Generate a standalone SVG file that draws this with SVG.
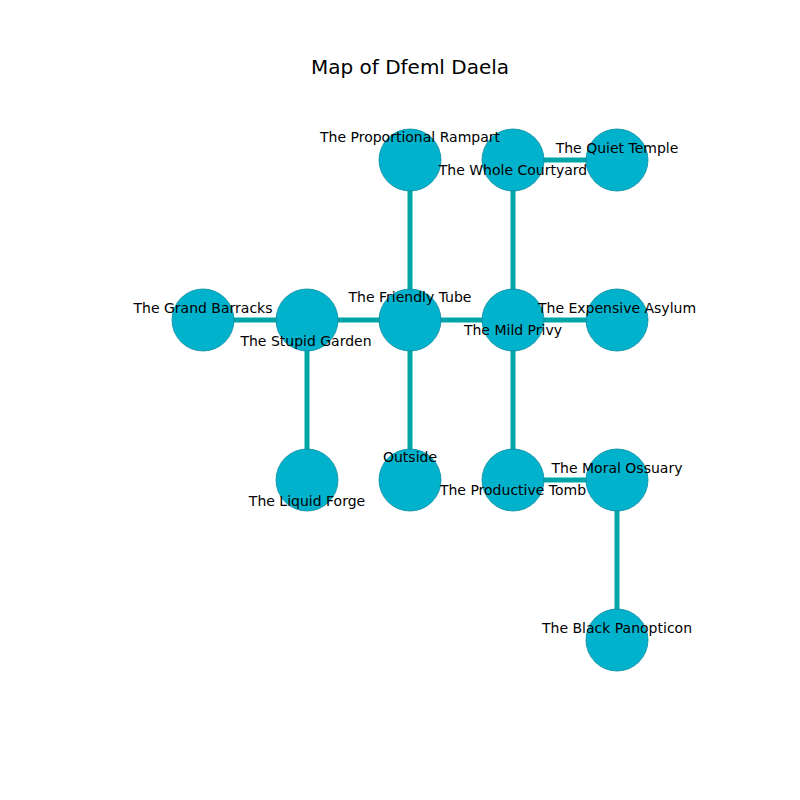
<svg xmlns="http://www.w3.org/2000/svg" width="800" height="800" viewBox="0 0 800 800">
<style>
.edge{stroke:#00a5a8;stroke-width:5;fill:none}
.node circle{fill:#00b2cc;stroke:#0a8ca0;stroke-width:0.8}
text{font-family:"DejaVu Sans",sans-serif;font-size:14px;fill:#000;text-anchor:middle;dominant-baseline:central}
.title{font-size:20px}
</style>
<rect width="800" height="800" fill="#fff"/>
<text class="title" x="410" y="67">Map of Dfeml Daela</text>
<g id="connectors">
<line class="edge" x1="410" y1="160" x2="410" y2="320"/>
<line class="edge" x1="513" y1="160" x2="617" y2="160"/>
<line class="edge" x1="513" y1="160" x2="513" y2="320"/>
<line class="edge" x1="203" y1="320" x2="307" y2="320"/>
<line class="edge" x1="307" y1="320" x2="410" y2="320"/>
<line class="edge" x1="410" y1="320" x2="513" y2="320"/>
<line class="edge" x1="513" y1="320" x2="617" y2="320"/>
<line class="edge" x1="307" y1="320" x2="307" y2="480"/>
<line class="edge" x1="410" y1="320" x2="410" y2="480"/>
<line class="edge" x1="513" y1="320" x2="513" y2="480"/>
<line class="edge" x1="513" y1="480" x2="617" y2="480"/>
<line class="edge" x1="617" y1="480" x2="617" y2="640"/>
</g>
<g id="n-rampart" class="node"><circle cx="410" cy="160" r="31"/></g>
<g id="n-courtyard" class="node"><circle cx="513" cy="160" r="31"/></g>
<g id="n-temple" class="node"><circle cx="617" cy="160" r="31"/></g>
<g id="n-barracks" class="node"><circle cx="203" cy="320" r="31"/></g>
<g id="n-garden" class="node"><circle cx="307" cy="320" r="31"/></g>
<g id="n-tube" class="node"><circle cx="410" cy="320" r="31"/></g>
<g id="n-privy" class="node"><circle cx="513" cy="320" r="31"/></g>
<g id="n-asylum" class="node"><circle cx="617" cy="320" r="31"/></g>
<g id="n-forge" class="node"><circle cx="307" cy="480" r="31"/></g>
<g id="n-outside" class="node"><circle cx="410" cy="480" r="31"/></g>
<g id="n-tomb" class="node"><circle cx="513" cy="480" r="31"/></g>
<g id="n-ossuary" class="node"><circle cx="617" cy="480" r="31"/></g>
<g id="n-panopticon" class="node"><circle cx="617" cy="640" r="31"/></g>
<g id="labels">
<text x="410" y="137">The Proportional Rampart</text>
<text x="513" y="170">The Whole Courtyard</text>
<text x="617" y="148">The Quiet Temple</text>
<text x="203" y="308">The Grand Barracks</text>
<text x="306" y="341">The Stupid Garden</text>
<text x="410" y="297">The Friendly Tube</text>
<text x="513" y="330">The Mild Privy</text>
<text x="617" y="308">The Expensive Asylum</text>
<text x="307" y="501">The Liquid Forge</text>
<text x="410" y="457">Outside</text>
<text x="513" y="490">The Productive Tomb</text>
<text x="617" y="468">The Moral Ossuary</text>
<text x="617" y="628">The Black Panopticon</text>
</g>
</svg>
